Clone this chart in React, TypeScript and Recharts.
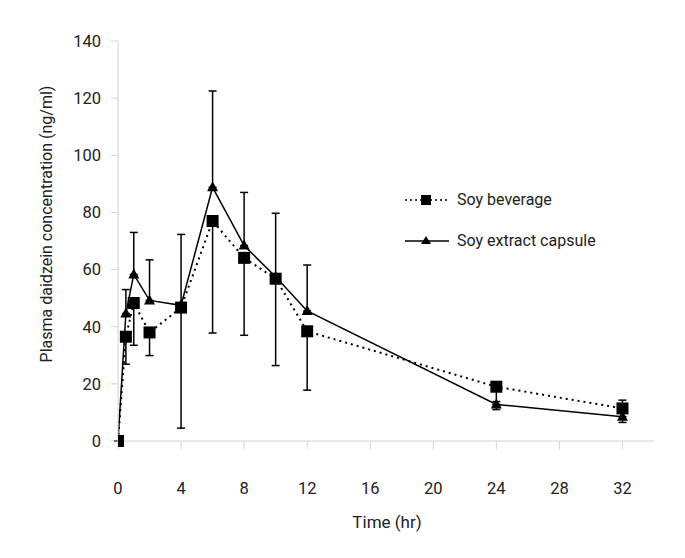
import React from 'react';
import { LineChart, Line, XAxis, YAxis, ErrorBar, Label } from 'recharts';

const times = [0, 0.5, 1, 2, 4, 6, 8, 10, 12, 24, 32];
const beverage = [0, 36.5, 48.3, 38, 46.7, 77, 64.1, 56.8, 38.4, 19, 11.4];
const beverageErrLow = [0, 9.6, 14.8, 8.1, 42.2, 39.2, 27.1, 30.4, 20.6, 8, 4.9];
const capsule = [0, 44.6, 58.3, 49.2, 47.5, 88.8, 68.4, 57.5, 45.5, 12.8, 8.5];
const capsuleErrHigh = [0, 8.4, 14.7, 14.2, 24.8, 33.7, 18.6, 22.2, 16.1, 1, 5.8];

const xTicks = [0, 4, 8, 12, 16, 20, 24, 28, 32];
const yTicks = [0, 20, 40, 60, 80, 100, 120, 140];

const data = times.map((t, i) => ({
  time: t,
  beverage: beverage[i],
  bevErr: [beverageErrLow[i], 0],
  capsule: capsule[i],
  capErr: [0, capsuleErrHigh[i]],
}));

const FONT = 'Roboto, "Liberation Sans", Arial, sans-serif';
const AXIS_GRAY = '#d4d4d4';
const TEXT = '#222';

const SquareDot = (props: any) => {
  const { cx, cy, index } = props;
  if (cx == null || cy == null) return null;
  return <rect key={`sq-${index}`} x={cx - 6} y={cy - 6} width={12} height={12} fill="#000" />;
};

const TriangleDot = (props: any) => {
  const { cx, cy, index } = props;
  if (cx == null || cy == null) return null;
  return (
    <polygon
      key={`tr-${index}`}
      points={`${cx},${cy - 6} ${cx - 5.5},${cy + 4} ${cx + 5.5},${cy + 4}`}
      fill="#000"
    />
  );
};

// legend sits over the chart, outside recharts' layout
const ChartLegend = () => (
  <div
    style={{
      position: 'absolute',
      left: 404,
      top: 179,
      fontFamily: FONT,
      fontSize: 16,
      color: TEXT,
    }}
  >
    <div style={{ display: 'flex', alignItems: 'center', height: 41 }}>
      <svg width={46} height={14} style={{ marginRight: 7 }}>
        <line x1={1} y1={7} x2={45} y2={7} stroke="#000" strokeWidth={1.5} strokeDasharray="2 3" />
        <rect x={17} y={2} width={10} height={10} fill="#000" />
      </svg>
      Soy beverage
    </div>
    <div style={{ display: 'flex', alignItems: 'center', height: 41 }}>
      <svg width={46} height={14} style={{ marginRight: 7 }}>
        <line x1={1} y1={7} x2={45} y2={7} stroke="#000" strokeWidth={1.3} />
        <polygon points="22,2 17,10 27,10" fill="#000" />
      </svg>
      Soy extract capsule
    </div>
  </div>
);

const YTitle = () => (
  <text
    x={46}
    y={224}
    transform="rotate(-90 46 224)"
    textAnchor="middle"
    dominantBaseline="central"
    fontFamily={FONT}
    fontSize={16}
    fill={TEXT}
  >
    Plasma daidzein concentration (ng/ml)
  </text>
);

const XTitle = () => (
  <text
    x={387}
    y={522}
    textAnchor="middle"
    dominantBaseline="central"
    fontFamily={FONT}
    fontSize={17}
    fill={TEXT}
  >
    Time (hr)
  </text>
);

export default function App() {
  return (
    <div style={{ position: 'absolute', left: 0, top: 0, width: 685, height: 558, background: '#fff' }}>
      <LineChart
        width={685}
        height={558}
        data={data}
        margin={{ top: 41, right: 31, bottom: 77, left: 58 }}
      >
        <XAxis
          dataKey="time"
          type="number"
          domain={[0, 34]}
          ticks={xTicks}
          height={40}
          stroke={AXIS_GRAY}
          tickSize={8}
          tickMargin={33}
          tick={{ fill: TEXT, fontSize: 16.5, fontFamily: FONT }}
          allowDataOverflow
        >
          <Label value="Time (hr)" content={XTitle} />
        </XAxis>
        <YAxis
          type="number"
          domain={[0, 140]}
          ticks={yTicks}
          width={60}
          stroke={AXIS_GRAY}
          tickSize={7}
          tickMargin={10}
          tick={{ fill: TEXT, fontSize: 16.5, fontFamily: FONT }}
        >
          <Label value="Plasma daidzein concentration (ng/ml)" content={YTitle} />
        </YAxis>
        <Line
          name="Soy beverage"
          dataKey="beverage"
          stroke="#000"
          strokeWidth={2}
          strokeDasharray="2 4"
          dot={SquareDot}
          activeDot={false}
          isAnimationActive={false}
        >
          <ErrorBar dataKey="bevErr" direction="y" width={4} stroke="#000" strokeWidth={1.5} />
        </Line>
        <Line
          name="Soy extract capsule"
          dataKey="capsule"
          stroke="#000"
          strokeWidth={1.5}
          dot={TriangleDot}
          activeDot={false}
          isAnimationActive={false}
        >
          <ErrorBar dataKey="capErr" direction="y" width={4} stroke="#000" strokeWidth={1.5} />
        </Line>
      </LineChart>
      <ChartLegend />
    </div>
  );
}
